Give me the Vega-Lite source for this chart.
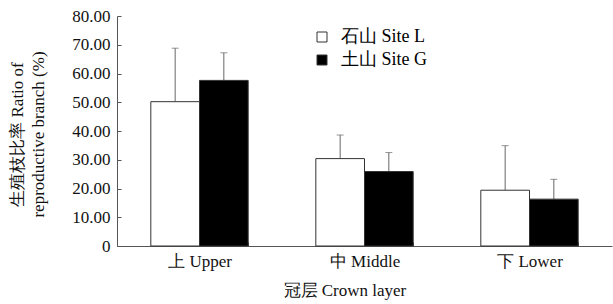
{
  "$schema": "https://vega.github.io/schema/vega-lite/v6.json",
  "width": 495,
  "height": 230,
  "autosize": {"type": "none"},
  "padding": {"left": 117, "top": 16, "right": 1, "bottom": 58},
  "background": "white",
  "config": {
    "view": {"stroke": null},
    "font": "Liberation Serif",
    "axis": {"labelFont": "Liberation Serif", "titleFont": "Liberation Serif", "labelColor": "#111", "titleColor": "#111", "titleFontWeight": "normal", "domainColor": "#555", "tickColor": "#555", "grid": false, "labelOverlap": false}
  },
  "data": {
    "values": [
      {"layer": "上 Upper", "site": "石山  Site L", "mean": 50.2, "upper": 68.8},
      {"layer": "上 Upper", "site": "土山  Site G", "mean": 57.6, "upper": 67.2},
      {"layer": "中 Middle", "site": "石山  Site L", "mean": 30.4, "upper": 38.6},
      {"layer": "中 Middle", "site": "土山  Site G", "mean": 25.9, "upper": 32.5},
      {"layer": "下 Lower", "site": "石山  Site L", "mean": 19.4, "upper": 34.9},
      {"layer": "下 Lower", "site": "土山  Site G", "mean": 16.3, "upper": 23.2}
    ]
  },
  "encoding": {
    "x": {
      "field": "layer", "type": "nominal", "sort": ["上 Upper", "中 Middle", "下 Lower"],
      "scale": {"paddingInner": 0.41, "paddingOuter": 0.205},
      "axis": {"title": "冠层 Crown layer", "labelAngle": 0, "labelFontSize": 17, "titleFontSize": 17, "labelPadding": 11, "tickBand": "extent", "tickSize": -4, "titleAnchor": "start", "titleX": 166, "titleY": 53, "titleBaseline": "bottom"}
    },
    "xOffset": {"field": "site", "type": "nominal", "sort": ["石山  Site L", "土山  Site G"], "scale": {"paddingInner": 0, "paddingOuter": 0}},
    "y": {
      "field": "mean", "type": "quantitative",
      "scale": {"domain": [0, 80], "nice": false},
      "axis": {"values": [0, 10, 20, 30, 40, 50, 60, 70, 80], "labelOverlap": false, "labelExpr": "datum.value == 0 ? '0' : format(datum.value, '.2f')", "labelFontSize": 17, "tickSize": -4, "labelPadding": 11, "title": ["生殖枝比率 Ratio of", "reproductive branch (%)"], "titleFontSize": 17, "titleLineHeight": 21, "titleAngle": -90, "titleX": -108, "titleY": 118, "titleBaseline": "top", "titleAlign": "center"}
    }
  },
  "layer": [
    {
      "mark": {"type": "rule", "color": "#666", "strokeWidth": 1},
      "encoding": {
        "y2": {"field": "upper"}
      }
    },
    {
      "mark": {"type": "tick", "color": "#666", "thickness": 1, "size": 7},
      "encoding": {
        "y": {
          "field": "upper", "type": "quantitative",
          "scale": {"domain": [0, 80], "nice": false},
          "axis": {"values": [0, 10, 20, 30, 40, 50, 60, 70, 80], "labelOverlap": false, "labelExpr": "datum.value == 0 ? '0' : format(datum.value, '.2f')", "labelFontSize": 17, "tickSize": -4, "labelPadding": 11, "title": ["生殖枝比率 Ratio of", "reproductive branch (%)"], "titleFontSize": 17, "titleLineHeight": 21, "titleAngle": -90, "titleX": -108, "titleY": 118, "titleBaseline": "top", "titleAlign": "center"}
        }
      }
    },
    {
      "mark": {"type": "bar", "stroke": "#333", "strokeWidth": 1},
      "encoding": {
        "fill": {
          "field": "site", "type": "nominal", "sort": ["石山  Site L", "土山  Site G"],
          "scale": {"range": ["white", "black"]},
          "legend": {"title": null, "orient": "none", "legendX": 196, "legendY": 12, "symbolType": "square", "symbolSize": 100, "symbolStrokeColor": "#333", "symbolStrokeWidth": 1, "labelFontSize": 18, "labelFont": "Liberation Serif", "rowPadding": 5, "labelOffset": 10}
        }
      }
    }
  ]
}
